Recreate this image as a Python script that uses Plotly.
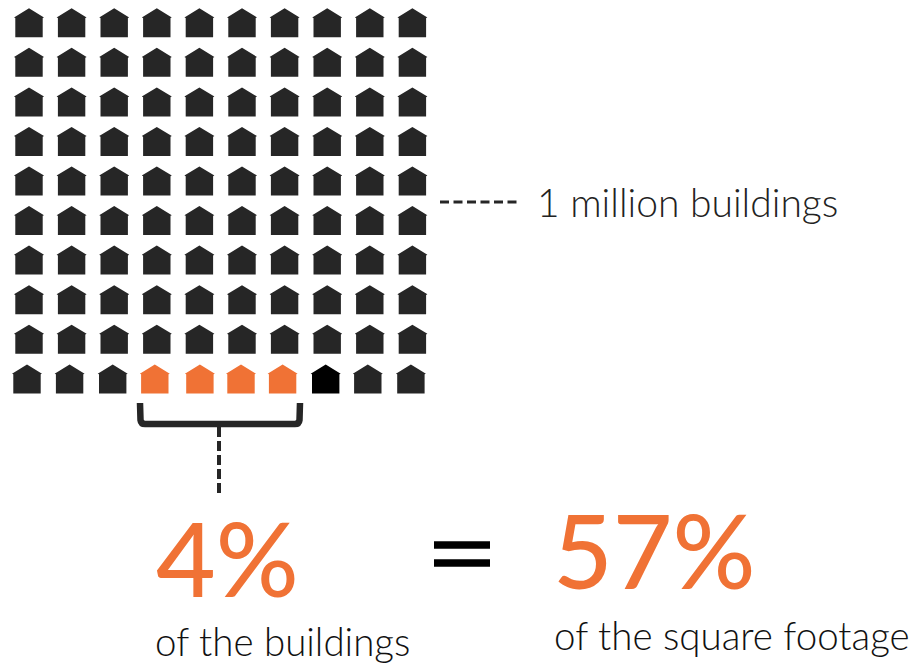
import plotly.graph_objects as go

# --- data -------------------------------------------------------------
rows = list(range(10))
cols = list(range(10))
total_buildings_millions = 100
large_share_pct = 4
footage_share_pct = 57
unit_label = "1 million buildings"
left_caption = "of the buildings"
right_caption = "of the square footage"
highlighted_cols_last_row = [3, 4, 5, 6]
black_cols_last_row = [7]

# --- layout constants -------------------------------------------------
W, H = 916, 664
ORANGE, DARK, BLACK = "#F07235", "#262626", "#000000"
PX_COL, PX_ROW = 42.6, 39.55
X0, Y0 = 29.0, 37.3            # centre of column 0, base of row 0
LAST_ROW_SHIFT = [-2, -2, -1.5, -2, 0.5, -1, -2, -1.5, -2, -1.5]
LAST_ROW_DROP = 0.3

# House outline in pixel offsets from (centre, base)
OUT_X = [-13.7, -13.7, -15, 0, 15, 13.7, 13.7, -13.7]
OUT_Y = [0, -19.2, -19.9, -29, -19.9, -19.2, 0, 0]


def house_trace(cells, colour):
    xs, ys = [], []
    for r, c in cells:
        shift = LAST_ROW_SHIFT[c] if r == 9 else 0
        drop = LAST_ROW_DROP if r == 9 else 0
        for dx, dy in zip(OUT_X, OUT_Y):
            xs.append(c + (shift + dx) / PX_COL)
            ys.append(r + (drop + dy) / PX_ROW)
        xs.append(None)
        ys.append(None)
    return go.Scatter(x=xs, y=ys, mode="lines", fill="toself", fillcolor=colour,
                      line=dict(width=0, color=colour), hoverinfo="skip", showlegend=False)


dark_cells, orange_cells, black_cells = [], [], []
for r in rows:
    for c in cols:
        if r == 9 and c in highlighted_cols_last_row:
            orange_cells.append((r, c))
        elif r == 9 and c in black_cols_last_row:
            black_cells.append((r, c))
        else:
            dark_cells.append((r, c))

fig = go.Figure([house_trace(dark_cells, DARK), house_trace(orange_cells, ORANGE),
                 house_trace(black_cells, BLACK)])


def fx(p):
    return p / W


def fy(p):
    return 1 - p / H


def text(s, x, y, size, colour, weight=400, family="Lato", anchor="left"):
    fig.add_annotation(text=s, x=fx(x), y=fy(y), xref="paper", yref="paper", showarrow=False,
                       xanchor=anchor, yanchor="middle", align="left",
                       font=dict(family=family, size=size, color=colour, weight=weight))


text(unit_label, 535, 202, 39, "#222222", 300)
text(f"{large_share_pct}%", 154, 557, 103, ORANGE, 500)
text(f"{footage_share_pct}%", 551, 549, 103, ORANGE, 500)
text(left_caption, 153, 640.5, 38.5, "#111111", 300)
text(right_caption, 552, 635, 38.5, "#111111", 300)

# connectors
def line(x0, y0, x1, y1, width, dash="solid", colour=DARK):
    fig.add_shape(type="line", xref="paper", yref="paper", x0=fx(x0), y0=fy(y0), x1=fx(x1), y1=fy(y1),
                  line=dict(color=colour, width=width, dash=dash))


line(440, 202, 517, 202, 3, "9px,4.5px")
line(219, 427, 219, 497, 4, "10px,4px")
# bracket
fig.add_shape(type="path", xref="paper", yref="paper",
              path=(f"M {fx(140)} {fy(403)} L {fx(140.5)} {fy(420)} Q {fx(141)} {fy(424)} {fx(145)} {fy(424)} "
                    f"L {fx(295)} {fy(424)} Q {fx(299)} {fy(424)} {fx(299.5)} {fy(420)} L {fx(300)} {fy(403)}"),
              line=dict(color=DARK, width=6.5))
# equals sign
line(434, 545, 490, 545, 7.5, colour=BLACK)
line(434, 563, 490, 563, 7.5, colour=BLACK)

fig.update_layout(
    width=W, height=H, margin=dict(l=0, r=0, t=0, b=0),
    paper_bgcolor="white", plot_bgcolor="white", showlegend=False,
    xaxis=dict(range=[-X0 / PX_COL, (W - X0) / PX_COL], visible=False, fixedrange=True),
    yaxis=dict(range=[(H - Y0) / PX_ROW, -Y0 / PX_ROW], visible=False, fixedrange=True),
)
fig.write_html("out.html", config=dict(displayModeBar=False),
               post_script="document.body.style.margin='0';document.documentElement.style.overflow='hidden';")
